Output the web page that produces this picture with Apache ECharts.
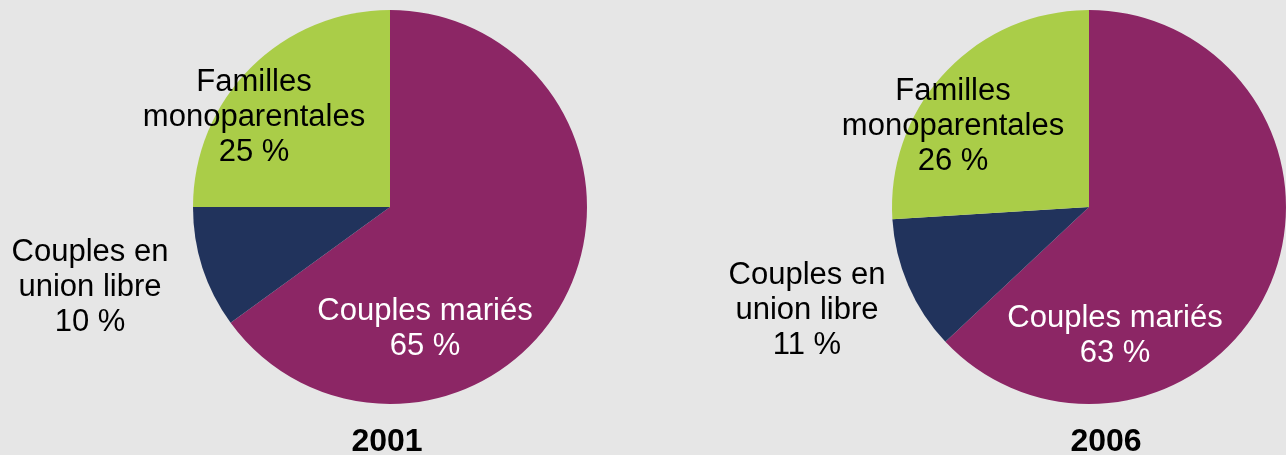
<!DOCTYPE html>
<html>
<head>
<meta charset="utf-8">
<script src="https://cdn.jsdelivr.net/npm/echarts@6/dist/echarts.min.js"></script>
<style>
html,body{margin:0;padding:0;background:#e6e6e6;}
#c{width:1286px;height:455px;}
</style>
</head>
<body>
<div id="c"></div>
<script>
var categories = ['Couples mariés', 'Couples en union libre', 'Familles monoparentales'];
var labelNames = ['Couples mariés', 'Couples en\nunion libre', 'Familles\nmonoparentales'];
var years = ['2001', '2006'];
var values2001 = [65, 10, 25];
var values2006 = [63, 11, 26];

var colors = ['#8c2665', '#21335c', '#aacd48'];
var labelColors = ['#ffffff', '#000000', '#000000'];
var centers = [[390, 207], [1089, 207]];
var radius = 197;
// label centre offsets relative to pie centre (px)
var labelOffsets = [
  [[35, 122], [-300, 80], [-136, -90]],
  [[26, 129], [-282, 103], [-136, -81]]
];
var font = "'Liberation Sans', Arial, sans-serif";

function makeSeries(idx, vals) {
  return {
    type: 'pie',
    center: centers[idx],
    radius: radius,
    startAngle: 90,
    clockwise: true,
    silent: true,
    animation: false,
    emphasis: {disabled: true},
    itemStyle: {borderWidth: 0},
    labelLine: {show: false},
    label: {
      show: true,
      position: 'inside',
      fontFamily: font,
      fontSize: 31,
      lineHeight: 35,
      align: 'center',
      formatter: function (p) { return labelNames[p.dataIndex] + '\n' + p.value + ' %'; }
    },
    labelLayout: function (p) {
      var o = labelOffsets[idx][p.dataIndex];
      return {
        x: centers[idx][0] + o[0],
        y: centers[idx][1] + o[1],
        align: 'center',
        verticalAlign: 'middle'
      };
    },
    data: vals.map(function (v, i) {
      return {
        name: categories[i],
        value: v,
        itemStyle: {color: colors[i]},
        label: {color: labelColors[i]}
      };
    })
  };
}

var chart = echarts.init(document.getElementById('c'), null, {renderer: 'canvas'});
chart.setOption({
  backgroundColor: '#e6e6e6',
  title: [
    {text: years[0], left: 382, top: 421, textAlign: 'center',
     textStyle: {fontFamily: font, fontSize: 32, fontWeight: 'bold', color: '#000'}},
    {text: years[1], left: 1101, top: 421, textAlign: 'center',
     textStyle: {fontFamily: font, fontSize: 32, fontWeight: 'bold', color: '#000'}}
  ],
  series: [makeSeries(0, values2001), makeSeries(1, values2006)]
});
</script>
</body>
</html>
